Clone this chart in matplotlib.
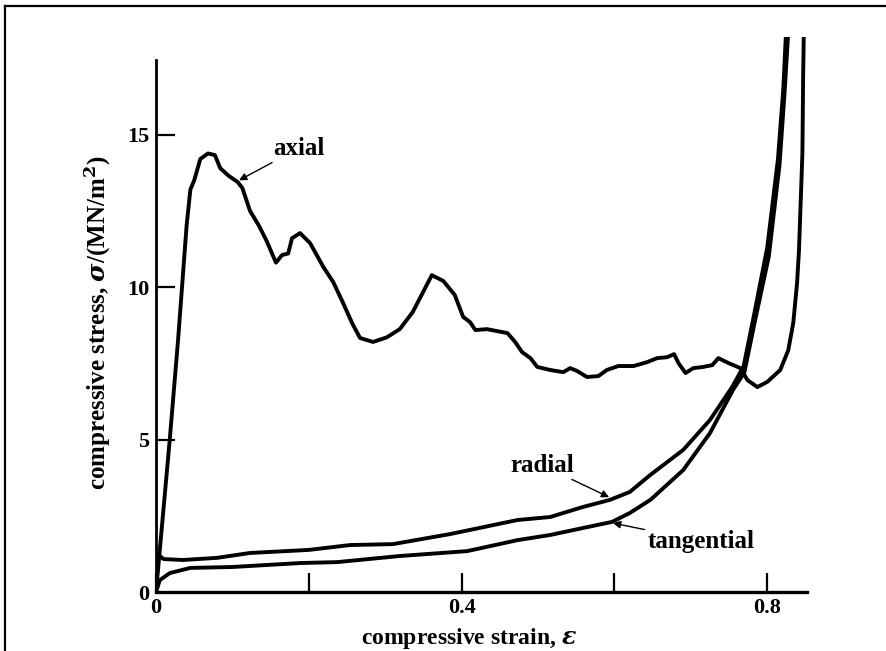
import matplotlib
matplotlib.use("Agg")
import matplotlib.pyplot as plt
from matplotlib.lines import Line2D

# ---- data ----
axial_x = [0.0, 0.018, 0.029, 0.040, 0.045, 0.050, 0.058, 0.068, 0.077, 0.084, 0.095, 0.107,
           0.113, 0.123, 0.135, 0.145, 0.157, 0.165, 0.173, 0.178, 0.1885, 0.2017, 0.219,
           0.232, 0.245, 0.2566, 0.267, 0.284, 0.302, 0.319, 0.336, 0.361, 0.376, 0.391,
           0.402, 0.411, 0.418, 0.433, 0.46, 0.470, 0.479, 0.49, 0.499, 0.516, 0.533, 0.542,
           0.551, 0.564, 0.579, 0.590, 0.605, 0.625, 0.643, 0.656, 0.669, 0.678, 0.684,
           0.693, 0.703, 0.716, 0.728, 0.736, 0.749, 0.765, 0.774, 0.787, 0.80, 0.817,
           0.8275, 0.834, 0.839, 0.8415, 0.846, 0.847, 0.848]
axial_y = [0.0, 5.0, 8.3, 12.0, 13.2, 13.5, 14.2, 14.38, 14.33, 13.9, 13.65, 13.44,
           13.25, 12.5, 12.0, 11.5, 10.8, 11.05, 11.1, 11.6, 11.77, 11.44, 10.66,
           10.16, 9.47, 8.82, 8.33, 8.2, 8.35, 8.62, 9.18, 10.39, 10.2, 9.74,
           9.02, 8.85, 8.59, 8.62, 8.49, 8.2, 7.87, 7.67, 7.38, 7.28, 7.21, 7.34,
           7.25, 7.05, 7.08, 7.28, 7.41, 7.41, 7.54, 7.67, 7.7, 7.8, 7.5,
           7.18, 7.34, 7.38, 7.44, 7.67, 7.51, 7.34, 6.95, 6.72, 6.89, 7.28,
           7.93, 8.82, 10.13, 11.2, 14.4, 17.0, 18.6]

radial_x = [0.0, 0.002, 0.004, 0.01, 0.035, 0.08, 0.123, 0.2, 0.254, 0.31, 0.385, 0.473,
            0.516, 0.559, 0.594, 0.62, 0.647, 0.69, 0.725, 0.754, 0.769, 0.782, 0.80,
            0.814, 0.821, 0.825]
radial_y = [0.0, 0.9, 1.2, 1.08, 1.05, 1.12, 1.28, 1.38, 1.54, 1.57, 1.9, 2.36,
            2.46, 2.79, 3.02, 3.28, 3.84, 4.66, 5.64, 6.72, 7.4, 9.0, 11.3,
            14.2, 16.5, 18.6]

tang_x = [0.0, 0.005, 0.018, 0.045, 0.1, 0.189, 0.237, 0.319, 0.407, 0.473, 0.516,
          0.559, 0.597, 0.62, 0.647, 0.69, 0.725, 0.755, 0.77, 0.784, 0.802, 0.816,
          0.823, 0.828]
tang_y = [0.0, 0.39, 0.62, 0.79, 0.82, 0.95, 0.98, 1.18, 1.34, 1.7, 1.87,
          2.1, 2.3, 2.59, 3.02, 4.0, 5.21, 6.62, 7.2, 8.9, 11.0, 14.0,
          16.5, 18.6]

x_ticks = [0.0, 0.2, 0.4, 0.6, 0.8]
x_tick_labels = ["0", "", "0.4", "", "0.8"]
y_ticks = [0, 5, 10, 15]
y_tick_labels = ["0", "5", "10", "15"]

# ---- figure ----
W, H = 886, 651
fig = plt.figure(figsize=(W / 100, H / 100), dpi=100)
plt.rcParams['font.family'] = ['Liberation Serif', 'DejaVu Serif']
plt.rcParams['font.weight'] = 'bold'
plt.rcParams['mathtext.fontset'] = 'dejavuserif'

x0, x1 = 156, 807
ybot, ytop = 592, 37
ax = fig.add_axes([x0 / W, 1 - ybot / H, (x1 - x0) / W, (ybot - ytop) / H])
ax.set_xlim(0, 0.852)
ax.set_ylim(0, 18.2)

lw = 2.8
for xs, ys in [(axial_x, axial_y), (radial_x, radial_y), (tang_x, tang_y)]:
    ax.plot(xs, ys, color='black', lw=lw, solid_joinstyle='round', solid_capstyle='butt')

for s in ['top', 'right']:
    ax.spines[s].set_visible(False)
ax.spines['left'].set_linewidth(2.0)
ax.spines['bottom'].set_linewidth(2.4)
ax.spines['left'].set_bounds(0, 17.45)

ax.set_xticks(x_ticks)
ax.set_xticklabels(x_tick_labels)
ax.set_yticks(y_ticks)
ax.set_yticklabels(y_tick_labels)
ax.tick_params(axis='both', direction='in', length=14, width=1.6, labelsize=16, colors='black')
ax.tick_params(axis='x', pad=4)
ax.tick_params(axis='y', pad=5)
ax.yaxis.get_major_ticks()[0].tick1line.set_visible(False)

ax.set_xlabel("compressive strain, $\\epsilon$", fontsize=17, fontweight='bold')
ax.xaxis.set_label_coords(0.481, -0.062)
ax.set_ylabel("compressive stress, $\\sigma$/(MN/m$^\\mathbf{2}$)", fontsize=18,
              fontweight='bold')
ax.yaxis.set_label_coords(-0.066, 0.485)

ap = dict(arrowstyle='-|>', color='black', lw=1.0, mutation_scale=11, shrinkA=0, shrinkB=0)
ax.annotate("axial", xy=(0.1087, 13.5), xytext=(0.153, 14.55), fontsize=18,
            ha='left', va='center', arrowprops=ap)
ax.annotate("radial", xy=(0.593, 3.11), xytext=(0.505, 4.16), fontsize=18,
            ha='center', va='center', arrowprops=ap)
ax.annotate("tangential", xy=(0.598, 2.26), xytext=(0.643, 1.67), fontsize=18,
            ha='left', va='center', arrowprops=ap)

# outer frame (left and top edges visible)
fig.add_artist(Line2D([5 / W, 5 / W], [0, 1 - 6 / H], transform=fig.transFigure, color='black', lw=1.6))
fig.add_artist(Line2D([5 / W, 1], [1 - 6 / H, 1 - 6 / H], transform=fig.transFigure, color='black', lw=1.6))

fig.savefig("out.png", dpi=100)
